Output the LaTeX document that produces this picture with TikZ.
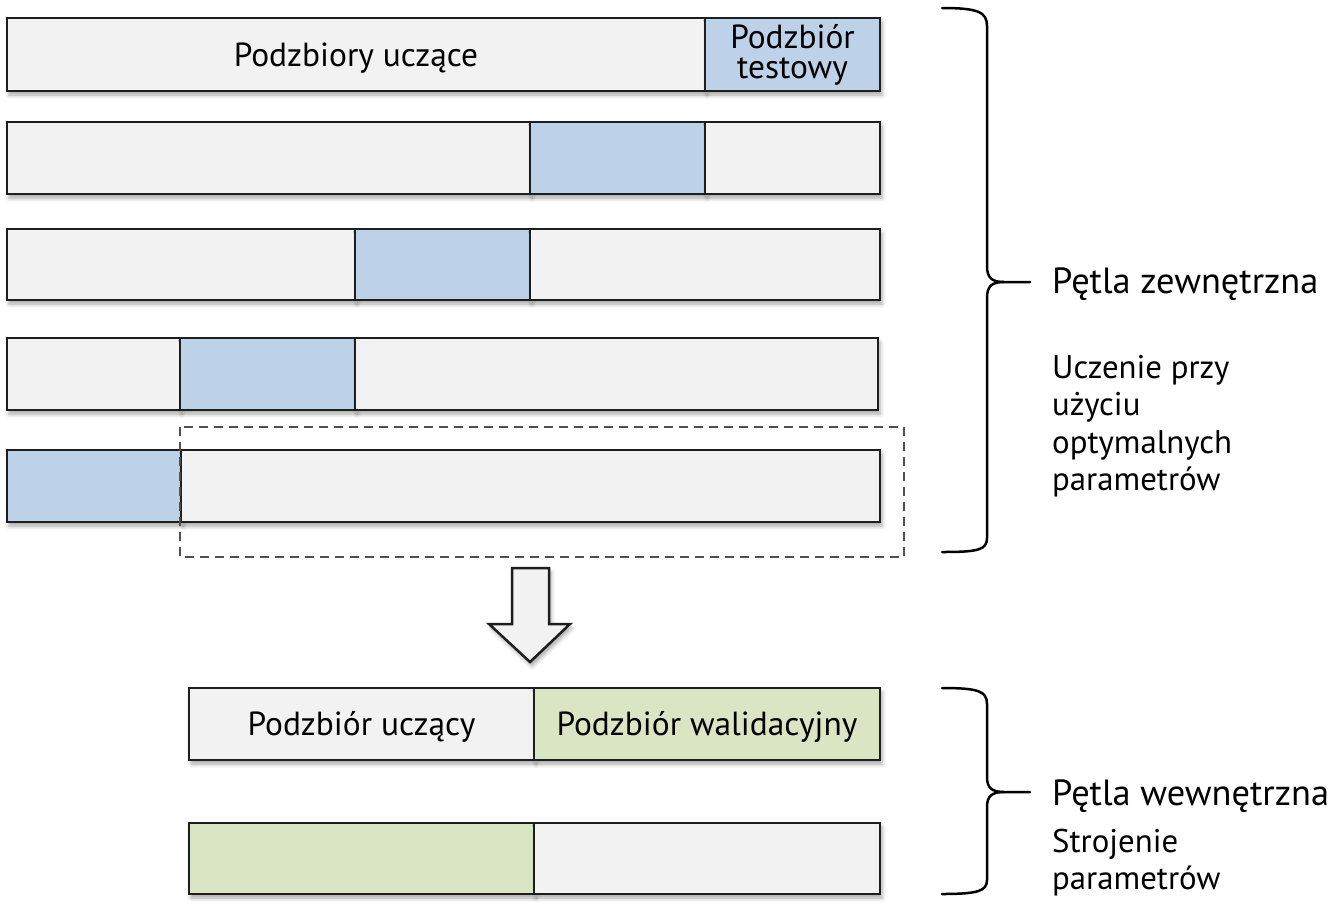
\documentclass[tikz,border=0pt]{standalone}
\usepackage{fontspec}
\setmainfont{PT Sans}
\usetikzlibrary{shadows.blur}
\definecolor{segGray}{HTML}{F2F2F2}
\definecolor{segBlue}{HTML}{BDD2E8}
\definecolor{segGreen}{HTML}{DAE5C3}
\definecolor{edgeC}{HTML}{1E1E1E}
\definecolor{dashC}{HTML}{505050}
\begin{document}
\begin{tikzpicture}[x=1pt,y=-1pt,
  seg/.style={draw=edgeC, line width=2.5pt, anchor=north west, inner sep=0pt, outer sep=0pt,
    font=\fontsize{33.4}{30}\selectfont, text height=23.5pt, text depth=0pt,
    blur shadow={shadow xshift=2pt, shadow yshift=-4pt, shadow blur radius=4pt, shadow opacity=35}},
  gseg/.style={seg, fill=segGray},
  bseg/.style={seg, fill=segBlue},
  eseg/.style={seg, fill=segGreen},
  brace/.style={draw=black, line width=2.5pt, line cap=round},
  bigLabel/.style={anchor=base west, inner sep=0pt, font=\fontsize{36.4}{40}\selectfont},
  smallLabel/.style={anchor=north west, inner sep=0pt, align=left, font=\fontsize{32.8}{37.4}\selectfont},
  frame/.style={draw=dashC, line width=2.5pt, dash pattern=on 9pt off 6pt}
]
\useasboundingbox (0,0) rectangle (1328,911);
% row 1
\node[gseg, minimum width=698pt, minimum height=73pt] (r1a) at (7,18) {Podzbiory uczące};
\node[bseg, minimum width=175pt, minimum height=73pt, align=center, text height=50pt, text depth=3pt] (r1b) at (705,18) {Podzbiór\\testowy};
% row 2
\node[gseg, minimum width=523pt, minimum height=72pt] (r2a) at (7,122) {};
\node[bseg, minimum width=175pt, minimum height=72pt] (r2b) at (530,122) {};
\node[gseg, minimum width=175pt, minimum height=72pt] (r2c) at (705,122) {};
% row 3
\node[gseg, minimum width=348pt, minimum height=71pt] (r3a) at (7,229) {};
\node[bseg, minimum width=175pt, minimum height=71pt] (r3b) at (355,229) {};
\node[gseg, minimum width=350pt, minimum height=71pt] (r3c) at (530,229) {};
% row 4
\node[gseg, minimum width=173pt, minimum height=72pt] (r4a) at (7,338) {};
\node[bseg, minimum width=175pt, minimum height=72pt] (r4b) at (180,338) {};
\node[gseg, minimum width=523pt, minimum height=72pt] (r4c) at (355,338) {};
% row 5
\node[bseg, minimum width=174pt, minimum height=72pt] (r5a) at (7,450) {};
\node[gseg, minimum width=699pt, minimum height=72pt] (r5b) at (181,450) {};
% dashed frame
\draw[frame] (180,427) rectangle (904,557);
% arrow
\draw[draw=edgeC, line width=2.5pt, fill=segGray, line join=miter,
  blur shadow={shadow xshift=2pt, shadow yshift=-4pt, shadow blur radius=4pt, shadow opacity=35}]
  (512,568) -- (549,568) -- (549,624) -- (570,624) -- (530,662) -- (489,624) -- (512,624) -- cycle;
% inner rows
\node[gseg, minimum width=345pt, minimum height=72pt] (iAa) at (189,688) {Podzbiór uczący};
\node[eseg, minimum width=346pt, minimum height=72pt] (iAb) at (534,688) {Podzbiór walidacyjny};
\node[eseg, minimum width=345pt, minimum height=71pt] (iBa) at (189,823) {};
\node[gseg, minimum width=346pt, minimum height=71pt] (iBb) at (534,823) {};
% outer brace
\coordinate (obTip) at (1030,282);
\draw[brace] (942,8) .. controls (978,8) and (987,12) .. (987,26) -- (987,266)
  .. controls (987,278) and (992,282) .. (1004,282) -- (obTip);
\draw[brace] (1004,282) .. controls (992,282) and (987,286) .. (987,298) -- (987,538)
  .. controls (987,550) and (978,552) .. (942,552);
% inner brace
\coordinate (ibTip) at (1030,792);
\draw[brace] (942,688) .. controls (978,688) and (987,691) .. (987,704) -- (987,777)
  .. controls (987,788) and (992,792) .. (1004,792) -- (ibTip);
\draw[brace] (1004,792) .. controls (992,792) and (987,796) .. (987,807) -- (987,880)
  .. controls (987,891) and (978,894) .. (942,894);
% labels
\node[bigLabel] (outerT) at (1052,293) {Pętla zewnętrzna};
\node[smallLabel] (outerS) at (1052,355) {Uczenie przy\\użyciu\\optymalnych\\parametrów};
\node[bigLabel] (innerT) at (1052,805) {Pętla wewnętrzna};
\node[smallLabel] (innerS) at (1052,829) {Strojenie\\parametrów};
\end{tikzpicture}
\end{document}
